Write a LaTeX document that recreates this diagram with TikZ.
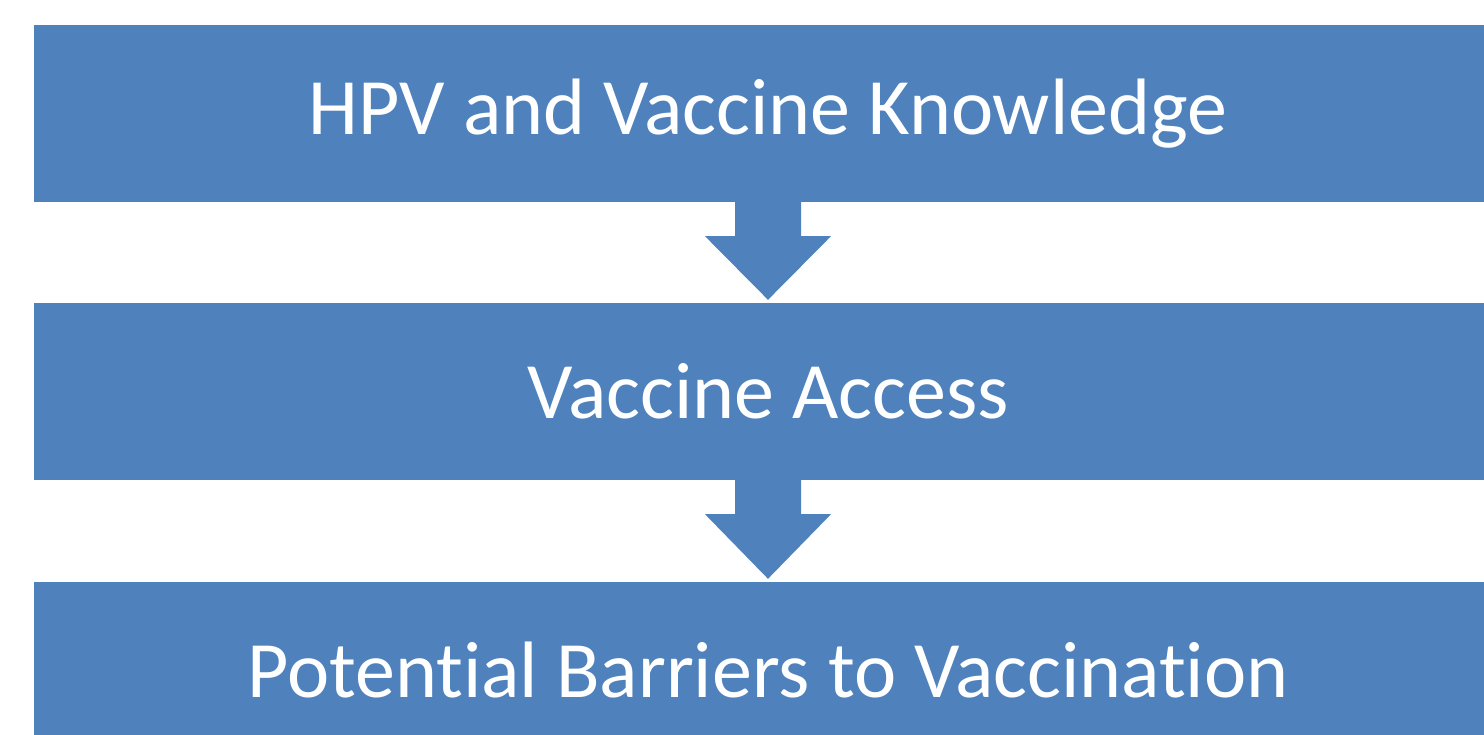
\documentclass[tikz,border=0pt]{standalone}
\usepackage{fontspec}
\setmainfont{Carlito}[RawFeature=-liga]
\usetikzlibrary{calc}
\definecolor{officeblue}{HTML}{4F81BD}

\begin{document}
\begin{tikzpicture}[x=1pt,y=-1pt,
  stage/.style={fill=officeblue,text=white,inner sep=0pt,minimum width=1468pt,
    minimum height=177pt,font=\fontsize{80}{96}\selectfont},
  downarrow/.style={fill=officeblue}]
  \clip (0,0) rectangle (1484,734);
  \node[stage] (know) at (768,113.5) {\raisebox{-2pt}{HPV and Vaccine Knowledge}};
  \node[stage] (access) at (768,391.5) {\raisebox{-2pt}{Vaccine Access}};
  \node[stage] (barrier) at (768,670.5) {\raisebox{-2pt}{Potential Barriers to Vaccination}};
  \fill[downarrow] ($(know.south)+(-33,0)$) -- ++(0,34) -- ++(-30,0)
    -- ($(access.north)+(0,-3)$) -- ($(know.south)+(63,34)$) -- ++(-30,0)
    -- ($(know.south)+(33,0)$) -- cycle;
  \fill[downarrow] ($(access.south)+(-33,0)$) -- ++(0,34) -- ++(-30,0)
    -- ($(barrier.north)+(0,-3)$) -- ($(access.south)+(63,34)$) -- ++(-30,0)
    -- ($(access.south)+(33,0)$) -- cycle;
\end{tikzpicture}
\end{document}
